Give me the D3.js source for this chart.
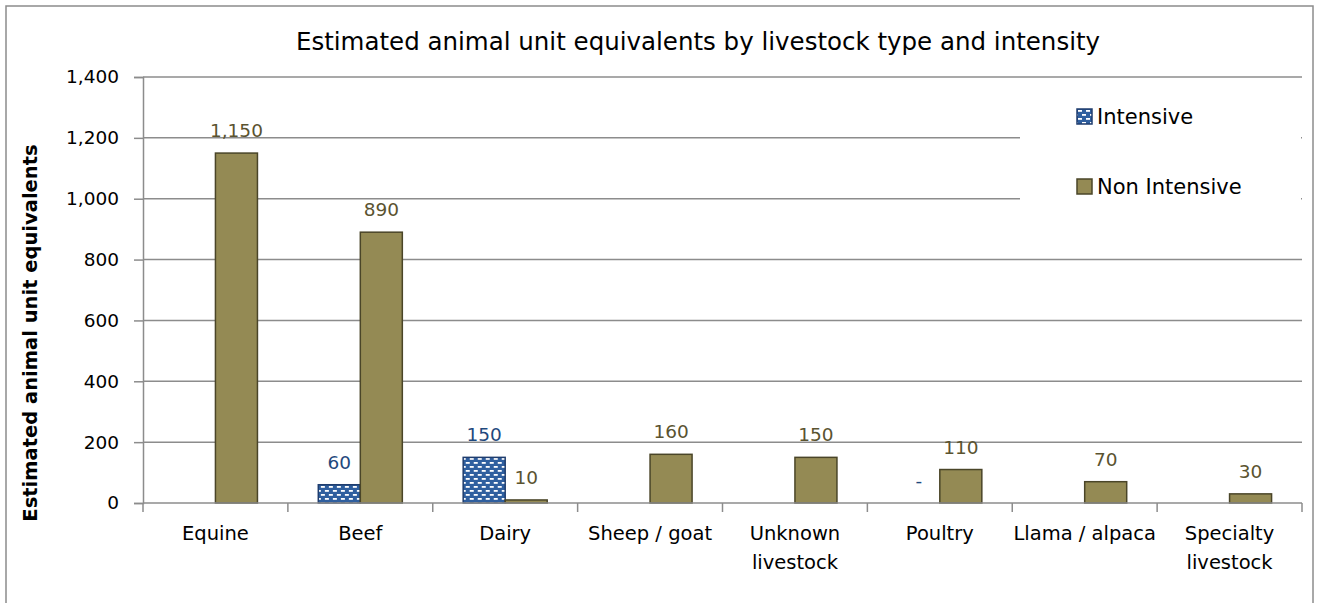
<html>
  <head>
    <meta charset="utf-8">
    <script src="https://d3js.org/d3.v7.min.js"></script>
    <style>
      body {
        margin: 0;
        background: #fff;
        font-family: "DejaVu Sans", "Liberation Sans", sans-serif;
      }
      svg { display: block; }
    </style>
  </head>
  <body>
    <div id="chart"></div>
  </body>

  <script>
    // data
    const categories = ['Equine', 'Beef', 'Dairy', 'Sheep / goat', 'Unknown livestock',
                        'Poultry', 'Llama / alpaca', 'Specialty livestock']
    const categoryLines = [['Equine'], ['Beef'], ['Dairy'], ['Sheep / goat'], ['Unknown', 'livestock'],
                           ['Poultry'], ['Llama / alpaca'], ['Specialty', 'livestock']]
    const seriesNames = ['Intensive', 'Non Intensive']
    const intensive = [null, 60, 150, null, null, 0, null, null]
    const nonIntensive = [1150, 890, 10, 160, 150, 110, 70, 30]
    const yTicks = [0, 200, 400, 600, 800, 1000, 1200, 1400]

    const W = 1317, H = 603
    const margin = {top: 77, right: 15, bottom: 100, left: 143}
    const width = 1302 - margin.left
    const height = 503 - margin.top

    const svg = d3.select('#chart')
      .append('svg')
        .attr('width', W)
        .attr('height', H)

    // hatch pattern for the intensive bars
    const defs = svg.append('defs')
    const pat = defs.append('pattern')
      .attr('id', 'dash')
      .attr('patternUnits', 'userSpaceOnUse')
      .attr('width', 8)
      .attr('height', 8)
    pat.append('rect').attr('width', 8).attr('height', 8).attr('fill', '#2f5f9f')
    pat.append('rect').attr('x', 1).attr('y', 1).attr('width', 4).attr('height', 1.8).attr('fill', '#fff')
    pat.append('rect').attr('x', 5).attr('y', 5).attr('width', 4).attr('height', 1.8).attr('fill', '#fff')
    pat.append('rect').attr('x', -3).attr('y', 5).attr('width', 4).attr('height', 1.8).attr('fill', '#fff')

    // outer frame
    svg.append('rect')
      .attr('x', 6).attr('y', 6)
      .attr('width', 1307).attr('height', 640)
      .attr('fill', 'none')
      .attr('stroke', '#8c8c8c')
      .attr('stroke-width', 1.5)

    svg.append('text')
      .attr('x', 698)
      .attr('y', 50)
      .attr('text-anchor', 'middle')
      .style('font-size', '24.5px')
      .text('Estimated animal unit equivalents by livestock type and intensity')

    const g = svg.append('g')
      .attr('transform', `translate(${margin.left}, ${margin.top})`)

    const x = d3.scaleBand().domain(categories).range([0, width])
    const x1 = d3.scaleBand().domain(seriesNames)
      .range([x.bandwidth() * 0.21, x.bandwidth() * 0.79])
    const y = d3.scaleLinear().domain([0, 1400]).range([height, 0])

    // gridlines
    g.selectAll('line.grid')
      .data(yTicks.filter(d => d > 0))
      .join('line')
        .attr('class', 'grid')
        .attr('x1', 0).attr('x2', width)
        .attr('y1', d => y(d)).attr('y2', d => y(d))
        .attr('stroke', '#8c8c8c')
        .attr('stroke-width', 1.5)

    // y axis
    const yAxis = g.append('g')
      .call(d3.axisLeft(y).tickValues(yTicks).tickFormat(d3.format(',')).tickSize(9).tickPadding(15))
    yAxis.select('.domain').attr('stroke', '#8c8c8c').attr('stroke-width', 1.5)
    yAxis.selectAll('.tick line').attr('stroke', '#8c8c8c').attr('stroke-width', 1.5)
    yAxis.selectAll('.tick text')
      .attr('fill', '#000')
      .style('font-size', '18.5px')
      .style('font-family', '"DejaVu Sans", sans-serif')

    svg.append('text')
      .attr('transform', `translate(37, 333) rotate(-90)`)
      .attr('text-anchor', 'middle')
      .style('font-size', '19.5px')
      .style('font-weight', 'bold')
      .text('Estimated animal unit equivalents')

    const rows = categories.map((c, i) => ({
      cat: c,
      values: [
        {key: 'Intensive', value: intensive[i]},
        {key: 'Non Intensive', value: nonIntensive[i]}
      ]
    }))

    const fills = {'Intensive': 'url(#dash)', 'Non Intensive': '#948a54'}
    const strokes = {'Intensive': '#1f3d6e', 'Non Intensive': '#4a4528'}
    const labelColors = {'Intensive': '#1f497d', 'Non Intensive': '#5a5330'}

    const groups = g.selectAll('g.cat')
      .data(rows)
      .join('g')
        .attr('class', 'cat')
        .attr('transform', d => `translate(${x(d.cat)}, 0)`)

    groups.selectAll('rect')
      .data(d => d.values.filter(v => v.value))
      .join('rect')
        .attr('x', d => x1(d.key))
        .attr('y', d => y(d.value))
        .attr('width', x1.bandwidth())
        .attr('height', d => y(0) - y(d.value))
        .attr('fill', d => fills[d.key])
        .attr('stroke', d => strokes[d.key])
        .attr('stroke-width', 1.5)

    groups.selectAll('text.val')
      .data(d => d.values.filter(v => v.value !== null))
      .join('text')
        .attr('class', 'val')
        .attr('x', d => x1(d.key) + x1.bandwidth() / 2)
        .attr('y', d => y(d.value) - 16)
        .attr('text-anchor', 'middle')
        .attr('fill', d => labelColors[d.key])
        .style('font-size', '18.5px')
        .text(d => d.value === 0 ? '-' : d3.format(',')(d.value))

    // x axis
    g.append('line')
      .attr('x1', 0).attr('x2', width)
      .attr('y1', height).attr('y2', height)
      .attr('stroke', '#8c8c8c').attr('stroke-width', 1.5)
    g.selectAll('line.xtick')
      .data(d3.range(categories.length + 1))
      .join('line')
        .attr('class', 'xtick')
        .attr('x1', i => i * x.step()).attr('x2', i => i * x.step())
        .attr('y1', height).attr('y2', height + 9)
        .attr('stroke', '#8c8c8c').attr('stroke-width', 1.5)

    g.selectAll('text.xlab')
      .data(categories)
      .join('text')
        .attr('class', 'xlab')
        .attr('x', d => x(d) + x.bandwidth() / 2)
        .attr('y', height + 37)
        .attr('text-anchor', 'middle')
        .style('font-size', '19.5px')
        .selectAll('tspan')
        .data((d, i) => categoryLines[i])
        .join('tspan')
          .attr('x', function() { return this.parentNode.getAttribute('x') })
          .attr('dy', (d, i) => i === 0 ? 0 : 29)
          .text(d => d)

    // legend
    const leg = svg.append('g')
    leg.append('rect')
      .attr('x', 1020).attr('y', 92)
      .attr('width', 281).attr('height', 123)
      .attr('fill', '#fff')
    const legItems = leg.selectAll('g.item')
      .data(seriesNames)
      .join('g')
        .attr('class', 'item')
        .attr('transform', (d, i) => `translate(1077, ${109 + i * 70})`)
    legItems.append('rect')
      .attr('width', 15).attr('height', 15)
      .attr('fill', d => fills[d])
      .attr('stroke', d => strokes[d])
      .attr('stroke-width', 1.5)
    legItems.append('text')
      .attr('x', 20)
      .attr('y', 15)
      .style('font-size', '21px')
      .text(d => d)
  </script>
</html>
